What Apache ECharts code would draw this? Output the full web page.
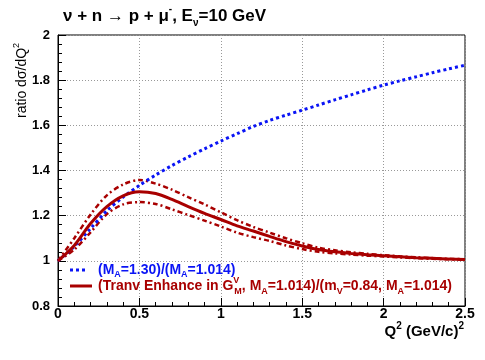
<!DOCTYPE html>
<html>
<head>
<meta charset="utf-8">
<script src="https://cdn.jsdelivr.net/npm/echarts@6/dist/echarts.min.js"></script>
<style>
  html, body { margin: 0; padding: 0; background: #fff; }
  #main { width: 485px; height: 360px; }
</style>
</head>
<body>
<div id="main"></div>
<script>
// Q^2 sample points (GeV/c)^2
var q2 = [0, 0.1, 0.2, 0.3, 0.4, 0.5, 0.6, 0.7, 0.8, 0.9, 1.0, 1.1, 1.2, 1.3, 1.4, 1.5, 1.6, 1.7, 1.8, 1.9, 2.0, 2.1, 2.2, 2.3, 2.4, 2.5];

// (M_A=1.30)/(M_A=1.014)
var ratioMA = [1.0, 1.064, 1.143, 1.222, 1.282, 1.334, 1.38, 1.422, 1.46, 1.496, 1.53, 1.563, 1.595, 1.622, 1.645, 1.667, 1.69, 1.713, 1.735, 1.757, 1.778, 1.797, 1.815, 1.833, 1.85, 1.866];

// transverse enhancement ratio, central + band
var ratioTE   = [1.0, 1.068, 1.165, 1.24, 1.288, 1.306, 1.298, 1.272, 1.24, 1.21, 1.183, 1.155, 1.132, 1.108, 1.085, 1.066, 1.05, 1.04, 1.033, 1.027, 1.022, 1.018, 1.014, 1.011, 1.008, 1.006];
var ratioTEhi = [1.0, 1.10, 1.205, 1.29, 1.338, 1.358, 1.342, 1.315, 1.282, 1.25, 1.215, 1.18, 1.15, 1.125, 1.1, 1.078, 1.058, 1.047, 1.038, 1.031, 1.025, 1.02, 1.016, 1.012, 1.009, 1.007];
var ratioTElo = [1.0, 1.05, 1.126, 1.207, 1.25, 1.26, 1.252, 1.228, 1.203, 1.178, 1.152, 1.125, 1.105, 1.088, 1.068, 1.052, 1.04, 1.033, 1.028, 1.023, 1.019, 1.015, 1.012, 1.009, 1.007, 1.005];

function pairs(ys) {
  return q2.map(function (x, i) { return [x, ys[i]]; });
}

var FONT = 'Liberation Sans, Arial, Helvetica, sans-serif';
var BLUE = '#0a14f5';
var RED = '#a80000';

var chart = echarts.init(document.getElementById('main'));

var lineCommon = { type: 'line', showSymbol: false, smooth: 0.3 };

var option = {
  animation: false,
  backgroundColor: '#fff',
  grid: {
    left: 58, right: 20, top: 35, bottom: 54,
    show: true, borderColor: '#000', borderWidth: 1
  },
  xAxis: {
    type: 'value',
    min: 0, max: 2.5, interval: 0.5,
    axisLine: { show: true, onZero: false, lineStyle: { color: '#000', width: 1 } },
    axisTick: { show: true, inside: true, length: 8, lineStyle: { color: '#000' } },
    minorTick: { show: true, splitNumber: 5, length: 4, lineStyle: { color: '#000' } },
    splitLine: { show: true, lineStyle: { color: '#999', type: [1, 2], width: 1 } },
    axisLabel: { color: '#000', fontFamily: FONT, fontWeight: 'bold', fontSize: 14, margin: 1 }
  },
  yAxis: {
    type: 'value',
    min: 0.8, max: 2, interval: 0.2,
    axisLine: { show: true, onZero: false, lineStyle: { color: '#000', width: 1 } },
    axisTick: { show: true, inside: true, length: 8, lineStyle: { color: '#000' } },
    minorTick: { show: true, splitNumber: 5, length: 4, lineStyle: { color: '#000' } },
    splitLine: { show: true, lineStyle: { color: '#999', type: [1, 2], width: 1 } },
    axisLabel: { color: '#000', fontFamily: FONT, fontWeight: 'bold', fontSize: 13, margin: 8 }
  },
  series: [
    Object.assign({}, lineCommon, {
      data: pairs(ratioMA),
      lineStyle: { color: BLUE, width: 3, type: [3, 3], cap: 'butt' }, z: 3
    }),
    Object.assign({}, lineCommon, {
      data: pairs(ratioTEhi),
      lineStyle: { color: RED, width: 2.5, type: [5, 3, 2, 3], cap: 'butt' }, z: 2
    }),
    Object.assign({}, lineCommon, {
      data: pairs(ratioTElo),
      lineStyle: { color: RED, width: 2.5, type: [5, 3, 2, 3], cap: 'butt' }, z: 2
    }),
    Object.assign({}, lineCommon, {
      data: pairs(ratioTE),
      lineStyle: { color: RED, width: 3, type: 'solid' }, z: 4
    })
  ],
  graphic: [
    {
      type: 'text', left: 63, top: 4,
      style: {
        text: 'ν + n → p + μ{sup|-}, E{sub|ν}=10 GeV',
        fontFamily: FONT, fontWeight: 'bold', fontSize: 17, fill: '#000', lineHeight: 24,
        rich: {
          sup: { fontSize: 10, fontWeight: 'bold', verticalAlign: 'top', lineHeight: 24 },
          sub: { fontSize: 10, fontWeight: 'bold', verticalAlign: 'bottom', lineHeight: 24 }
        }
      }
    },
    {
      type: 'text', x: 12, y: 118, rotation: Math.PI / 2,
      style: {
        text: 'ratio dσ/dQ{sup|2}',
        fontFamily: FONT, fontSize: 14, fill: '#000', lineHeight: 20,
        rich: { sup: { fontSize: 9, verticalAlign: 'top', lineHeight: 20 } }
      }
    },
    {
      type: 'text', right: 21, top: 321,
      style: {
        text: 'Q{sup|2} (GeV/c){sup|2}',
        fontFamily: FONT, fontWeight: 'bold', fontSize: 15, fill: '#000', lineHeight: 22,
        rich: { sup: { fontSize: 10, fontWeight: 'bold', verticalAlign: 'top', lineHeight: 22 } }
      }
    },
    {
      type: 'line', shape: { x1: 70, y1: 270, x2: 88, y2: 270 },
      style: { stroke: BLUE, lineWidth: 3, lineDash: [3, 3] }
    },
    {
      type: 'text', left: 98, top: 261,
      style: {
        text: '(M{sub|A}=1.30)/(M{sub|A}=1.014)',
        fontFamily: FONT, fontWeight: 'bold', fontSize: 14, fill: BLUE, lineHeight: 18,
        rich: { sub: { fontSize: 9, fontWeight: 'bold', verticalAlign: 'bottom', lineHeight: 18 } }
      }
    },
    {
      type: 'line', shape: { x1: 70, y1: 286, x2: 92, y2: 286 },
      style: { stroke: RED, lineWidth: 3 }
    },
    {
      type: 'text', left: 98, top: 276,
      style: {
        text: '(Tranv Enhance in G{sup|V}{sub|M}, M{sub|A}=1.014)/(m{sub|V}=0.84, M{sub|A}=1.014)',
        fontFamily: FONT, fontWeight: 'bold', fontSize: 14, fill: RED, lineHeight: 20,
        rich: {
          sup: { fontSize: 9, fontWeight: 'bold', verticalAlign: 'top', lineHeight: 20, width: 1 },
          sub: { fontSize: 9, fontWeight: 'bold', verticalAlign: 'bottom', lineHeight: 20 }
        }
      }
    }
  ]
};

chart.setOption(option);
</script>
</body>
</html>
